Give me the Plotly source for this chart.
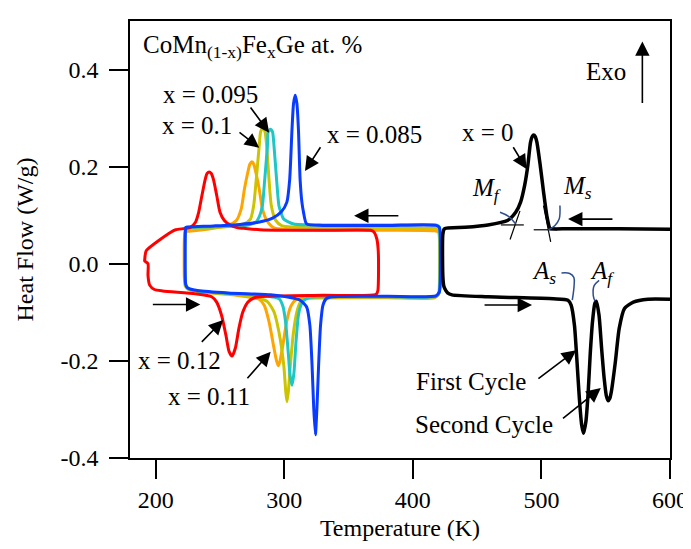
import plotly.graph_objects as go

# ---------------- data ----------------
# x = 0.085 (blue)
T_085 = [223.5, 223.0, 223.0, 223.3, 224.5, 226.8, 232.4, 256.3, 289.4, 301.5, 312.3, 317.4, 319.9, 321.6,
         322.9, 324.2, 325.4, 326.7, 328.2, 330.1, 332.6, 337.7, 380.0, 418.0, 420.6, 421.3, 421.3, 420.6,
         418.0, 380.0, 330.0, 317.4, 314.9, 313.7, 312.3, 311.0, 309.8, 308.5, 307.2, 306.0, 304.2, 302.0,
         297.7, 290.9, 280.7, 265.5, 245.0, 226.0, 223.5]
HF_085 = [0.075, 0.060, -0.030, -0.042, -0.049, -0.052, -0.055, -0.060, -0.064, -0.068, -0.075, -0.089, -0.127,
          -0.209, -0.297, -0.352, -0.297, -0.209, -0.127, -0.085, -0.072, -0.068, -0.067, -0.066, -0.058, -0.040,
          0.062, 0.075, 0.079, 0.079, 0.079, 0.082, 0.107, 0.127, 0.174, 0.277, 0.330, 0.347, 0.330, 0.277,
          0.174, 0.127, 0.107, 0.094, 0.086, 0.081, 0.078, 0.076, 0.075]

# x = 0.095 (cyan)
T_095 = [223.5, 222.8, 222.8, 223.5, 226.0, 232.0, 256.0, 285.0, 296.0, 299.0, 301.0, 303.0, 304.5, 306.0,
         307.5, 309.0, 311.0, 313.0, 315.0, 320.0, 380.0, 418.0, 420.4, 421.0, 421.0, 420.4, 418.0, 380.0,
         330.0, 307.3, 299.6, 297.5, 295.8, 294.0, 292.0, 290.8, 289.2, 287.5, 286.9, 284.8, 283.0, 281.0,
         278.0, 270.0, 250.0, 226.0, 223.5]
HF_095 = [0.075, 0.060, -0.030, -0.045, -0.052, -0.056, -0.061, -0.066, -0.072, -0.088, -0.120, -0.180, -0.230,
          -0.250, -0.225, -0.165, -0.106, -0.085, -0.076, -0.069, -0.068, -0.067, -0.060, -0.040, 0.062, 0.076,
          0.080, 0.080, 0.080, 0.082, 0.092, 0.105, 0.120, 0.174, 0.243, 0.272, 0.277, 0.272, 0.243, 0.174,
          0.120, 0.100, 0.086, 0.079, 0.077, 0.075, 0.075]

# x = 0.1 (yellow)
T_10 = [223.5, 222.8, 222.8, 223.5, 226.0, 232.0, 256.0, 276.0, 281.8, 286.9, 292.0, 295.8, 299.6, 301.2,
        302.1, 303.1, 304.7, 307.2, 309.8, 312.3, 316.0, 330.0, 380.0, 418.0, 420.4, 421.0, 421.0, 420.4,
        418.0, 330.0, 298.3, 293.2, 289.9, 288.1, 286.3, 285.0, 283.4, 281.6, 280.5, 278.2, 276.2, 273.7,
        268.6, 255.0, 230.0, 223.5]
HF_10 = [0.072, 0.058, -0.030, -0.046, -0.053, -0.057, -0.062, -0.068, -0.072, -0.078, -0.099, -0.140, -0.209,
         -0.265, -0.284, -0.265, -0.209, -0.140, -0.099, -0.080, -0.072, -0.069, -0.068, -0.067, -0.060, -0.040,
         0.060, 0.071, 0.073, 0.074, 0.078, 0.090, 0.120, 0.174, 0.243, 0.272, 0.280, 0.272, 0.243, 0.174,
         0.120, 0.092, 0.082, 0.076, 0.073, 0.072]

# x = 0.11 (orange)
T_11 = [223.0, 222.3, 222.3, 223.0, 225.5, 232.0, 256.0, 275.0, 280.5, 284.3, 288.2, 292.0, 294.0, 295.3,
        296.7, 298.5, 301.8, 304.7, 308.5, 315.0, 380.0, 417.0, 420.0, 420.6, 420.6, 420.0, 417.0, 330.0,
        292.0, 286.4, 283.0, 280.5, 277.9, 276.3, 274.8, 273.2, 271.6, 269.0, 266.5, 262.7, 256.3, 240.0,
        226.0, 223.0]
HF_11 = [0.066, 0.052, -0.030, -0.046, -0.053, -0.057, -0.063, -0.070, -0.073, -0.085, -0.120, -0.174, -0.200,
         -0.210, -0.200, -0.174, -0.120, -0.090, -0.075, -0.071, -0.070, -0.070, -0.063, -0.045, 0.055, 0.065,
         0.068, 0.069, 0.074, 0.089, 0.113, 0.154, 0.188, 0.205, 0.210, 0.205, 0.188, 0.154, 0.113, 0.089,
         0.079, 0.071, 0.067, 0.066]

# x = 0.12 (red)
T_12 = [199.0, 205.4, 230.8, 243.5, 247.4, 251.2, 254.6, 257.1, 259.4, 261.9, 264.7, 267.8, 271.6, 276.7,
        286.9, 330.0, 371.5, 372.8, 373.3, 373.0, 372.0, 369.6, 367.0, 330.0, 300.0, 281.0, 268.6, 264.0,
        257.7, 253.4, 250.0, 247.5, 244.9, 243.2, 241.6, 240.0, 238.5, 235.9, 233.4, 230.8, 227.0, 215.5,
        211.7, 192.6, 191.5, 191.4, 194.0, 194.0, 195.3, 199.0]
HF_12 = [-0.053, -0.056, -0.062, -0.068, -0.079, -0.106, -0.147, -0.181, -0.190, -0.174, -0.133, -0.099, -0.079,
         -0.070, -0.067, -0.065, -0.063, -0.055, -0.010, 0.030, 0.051, 0.066, 0.069, 0.069, 0.069, 0.070, 0.073,
         0.074, 0.080, 0.089, 0.106, 0.140, 0.174, 0.186, 0.189, 0.186, 0.174, 0.140, 0.106, 0.085, 0.075,
         0.070, 0.065, 0.027, 0.010, 0.006, 0.000, -0.024, -0.044, -0.053]

# x = 0 (black, first and second cycle heating dips)
T_0 = [600.0, 560.0, 520.0, 508.5, 506.6, 504.2, 501.7, 499.1, 496.5, 495.2, 494.0, 492.8, 491.5, 489.4,
       486.9, 483.8, 480.0, 473.6, 458.4, 440.6, 424.5, 423.3, 423.3, 424.0, 424.8, 427.0, 430.4, 458.4,
       509.2, 520.6, 523.1, 525.7, 527.5, 529.5, 531.3, 532.8, 534.6, 536.4, 537.9, 539.7, 541.5, 542.7,
       544.8, 546.8, 548.8, 550.5, 551.9, 553.2, 554.4, 557.5, 560.5, 564.6, 571.5, 582.9, 600.0]
HF_0 = [0.071, 0.072, 0.072, 0.072, 0.073, 0.099, 0.147, 0.202, 0.250, 0.262, 0.265, 0.262, 0.250, 0.202,
        0.161, 0.127, 0.106, 0.089, 0.080, 0.075, 0.072, 0.060, -0.024, -0.045, -0.051, -0.060, -0.064, -0.068,
        -0.072, -0.075, -0.085, -0.127, -0.195, -0.277, -0.332, -0.349, -0.325, -0.263, -0.188, -0.120, -0.082,
        -0.077, -0.106, -0.174, -0.236, -0.272, -0.282, -0.277, -0.263, -0.202, -0.133, -0.092, -0.079, -0.073,
        -0.073]

# construction lines for transformation temperatures
MF_TAN_T, MF_TAN_HF = [468.5, 486.3, None, 475.6, 483.3], [0.080, 0.080, None, 0.050, 0.109]
MS_TAN_T, MS_TAN_HF = [494.0, 512.0, None, 501.6, 507.2], [0.070, 0.070, None, 0.120, 0.045]
MF_ARC_T, MF_ARC_HF = [467.8, 474.1, 480.0], [0.106, 0.098, 0.082]
MS_ARC_T, MS_ARC_HF = [514.4, 513.8, 510.5, 505.4], [0.120, 0.092, 0.079, 0.070]
AS_ARC_T, AS_ARC_HF = [515.6, 522.0, 525.2, 525.4, 524.0], [-0.019, -0.020, -0.028, -0.045, -0.075]
AF_ARC_T, AF_ARC_HF = [544.9, 541.0, 540.3, 541.6], [-0.034, -0.045, -0.065, -0.077]

# arrows: tail T, tail HF, head T, head HF
ARROW_T0 = [389.9, 196.6, 556.4, 454.6, 578.5, 272.9, 264.0, 328.9, 234.7, 270.3, 477.4, 496.5, 515.6]
ARROW_H0 = [0.099, -0.084, 0.092, -0.085, 0.328, 0.325, 0.273, 0.243, -0.164, -0.239, 0.243, -0.239, -0.321]
ARROW_T1 = [354.3, 234.7, 520.7, 492.7, 578.5, 288.2, 280.5, 316.1, 252.5, 289.4, 488.4, 527.0, 546.2]
ARROW_H1 = [0.099, -0.084, 0.092, -0.085, 0.458, 0.270, 0.239, 0.191, -0.116, -0.181, 0.195, -0.178, -0.256]

x_ticks = [200, 300, 400, 500, 600]
y_ticks = [-0.4, -0.2, 0.0, 0.2, 0.4]
y_ticktext = ["-0.4", "-0.2", "0.0", "0.2", "0.4"]

FONT = "Liberation Serif"

fig = go.Figure()

series = [
    (T_11, HF_11, "#FFA500", "x = 0.11"),
    (T_10, HF_10, "#CCC400", "x = 0.1"),
    (T_095, HF_095, "#1FC6C6", "x = 0.095"),
    (T_12, HF_12, "#FF0000", "x = 0.12"),
    (T_085, HF_085, "#0A3CFF", "x = 0.085"),
    (T_0, HF_0, "#000000", "x = 0"),
]
for t, h, c, n in series:
    fig.add_trace(go.Scatter(x=t, y=h, mode="lines", name=n,
                             line=dict(color=c, width=3.5 if c == "#000000" else 3,
                                       shape="spline", smoothing=0.6)))

for t, h in [(MF_TAN_T, MF_TAN_HF), (MS_TAN_T, MS_TAN_HF)]:
    fig.add_trace(go.Scatter(x=t, y=h, mode="lines", line=dict(color="black", width=1.2)))
for t, h in [(MF_ARC_T, MF_ARC_HF), (MS_ARC_T, MS_ARC_HF), (AS_ARC_T, AS_ARC_HF), (AF_ARC_T, AF_ARC_HF)]:
    fig.add_trace(go.Scatter(x=t, y=h, mode="lines",
                             line=dict(color="#2E4E8E", width=1.5, shape="spline")))

# arrows
for t0, h0, t1, h1 in zip(ARROW_T0, ARROW_H0, ARROW_T1, ARROW_H1):
    fig.add_annotation(x=t1, y=h1, ax=t0, ay=h0, xref="x", yref="y", axref="x", ayref="y",
                       text="", showarrow=True, arrowhead=2, arrowsize=1.8, arrowwidth=1.6,
                       arrowcolor="black", standoff=0, startstandoff=0)

# text labels
labels = [
    ("CoMn<sub>(1-x)</sub>Fe<sub>x</sub>Ge at. %", 188.4, 0.447, "left"),
    ("x = 0.095", 242.3, 0.349, "center"),
    ("x = 0.1", 232.2, 0.284, "center"),
    ("x = 0.085", 370.3, 0.267, "center"),
    ("x = 0.12", 218.5, -0.199, "center"),
    ("x = 0.11", 241.5, -0.273, "center"),
    ("x = 0", 458.2, 0.271, "center"),
    ("Exo", 550.6, 0.395, "center"),
    ("First Cycle", 445.6, -0.242, "center"),
    ("Second Cycle", 455.2, -0.332, "center"),
    ("<i>M</i><sub><i>f</i></sub>", 457.0, 0.153, "center"),
    ("<i>M</i><sub><i>s</i></sub>", 527.7, 0.157, "center"),
    ("<i>A</i><sub><i>s</i></sub>", 502.2, -0.017, "center"),
    ("<i>A</i><sub><i>f</i></sub>", 546.8, -0.017, "center"),
]
for txt, x, y, anc in labels:
    fig.add_annotation(x=x, y=y, text=txt, showarrow=False, xanchor=anc, yanchor="middle",
                       font=dict(family=FONT, size=25, color="black"))

axis_common = dict(showline=True, linecolor="black", linewidth=1.5, mirror=True, ticks="outside",
                   ticklen=19, tickwidth=1.5, tickcolor="black", showgrid=False, zeroline=False,
                   tickfont=dict(family=FONT, size=24, color="black"))

fig.update_layout(
    width=691, height=549, showlegend=False,
    margin=dict(l=122, r=19, t=11, b=99),
    plot_bgcolor="white", paper_bgcolor="white",
    font=dict(family=FONT, size=24, color="black"),
    xaxis=dict(range=[180, 600], tickvals=x_ticks,
               title=dict(text="Temperature (K)", font=dict(family=FONT, size=24), standoff=8),
               **axis_common),
    yaxis=dict(range=[-0.4, 0.5], tickvals=y_ticks, ticktext=y_ticktext, ticklabelstandoff=6,
               title=dict(text="Heat Flow (W/g)", font=dict(family=FONT, size=24), standoff=20),
               **axis_common),
)

fig.write_html("out.html")
